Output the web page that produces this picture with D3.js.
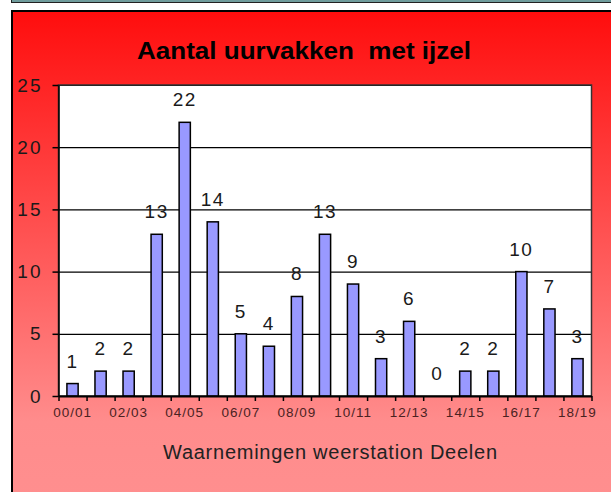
<!DOCTYPE html>
<html>
<head>
<meta charset="utf-8">
<script src="https://cdn.jsdelivr.net/npm/d3@7"></script>
<style>
  body { margin: 0; background: #fff; }
  svg { display: block; font-family: "Liberation Sans", Arial, sans-serif; }
</style>
</head>
<body>
<svg id="drawing_region"></svg>
<script>
// seasons and number of hours with glaze (ijzel)
var seasons = ['00/01','01/02','02/03','03/04','04/05','05/06','06/07','07/08','08/09','09/10',
               '10/11','11/12','12/13','13/14','14/15','15/16','16/17','17/18','18/19'];
var values = [1, 2, 2, 13, 22, 14, 5, 4, 8, 13, 9, 3, 6, 0, 2, 2, 10, 7, 3];
var yTicks = [0, 5, 10, 15, 20, 25];
var titleText = 'Aantal uurvakken  met ijzel';
var xTitle = 'Waarnemingen weerstation Deelen';

var width = 611;
var height = 492;
var margin = {top: 85, right: 19.5, bottom: 96, left: 58.5};
const inner_width = width - margin.left - margin.right;
const inner_height = height - margin.top - margin.bottom;

var svg = d3.select('#drawing_region')
    .attr('width', width)
    .attr('height', height);

// background gradient
var defs = svg.append('defs');
var grad = defs.append('linearGradient')
    .attr('id', 'bg')
    .attr('x1', 0).attr('y1', 0).attr('x2', 0).attr('y2', 1);
grad.append('stop').attr('offset', '0%').attr('stop-color', '#ff0d0d');
grad.append('stop').attr('offset', '82%').attr('stop-color', '#ff8c8c');
grad.append('stop').attr('offset', '100%').attr('stop-color', '#ff8f8f');

// top strip
svg.append('rect').attr('x', 11).attr('y', 0).attr('width', 600).attr('height', 2).attr('fill', '#6f9c9c');
svg.append('line').attr('x1', 11).attr('x2', 611).attr('y1', 2.5).attr('y2', 2.5).attr('stroke', '#222');
svg.append('line').attr('x1', 11.5).attr('x2', 11.5).attr('y1', 0).attr('y2', 3).attr('stroke', '#222');

// red box
svg.append('rect')
    .attr('x', 12).attr('y', 11)
    .attr('width', 620).attr('height', 500)
    .attr('fill', 'url(#bg)')
    .attr('stroke', '#000')
    .attr('stroke-width', 2);

var chart = svg.append('g')
    .attr('transform', `translate(${margin.left}, ${margin.top})`);

const xscale = d3.scaleBand()
      .domain(seasons)
      .range([0, inner_width])
      .paddingInner(0.6)
      .paddingOuter(0.3);

const xedge = d3.scaleLinear()
      .domain([0, seasons.length])
      .range([0, inner_width]);

const yscale = d3.scaleLinear()
      .domain([0, 25])
      .range([inner_height, 0]);

// plot area
chart.append('rect')
    .attr('width', inner_width)
    .attr('height', inner_height)
    .attr('fill', '#fff');

// gridlines
const grid = chart.append('g')
    .call(d3.axisLeft(yscale).tickValues(yTicks).tickSize(-inner_width).tickFormat(''));
grid.select('.domain').remove();
grid.selectAll('line').attr('stroke', '#000').attr('stroke-width', 1.2);

// plot border
chart.append('rect')
    .attr('width', inner_width)
    .attr('height', inner_height)
    .attr('fill', 'none')
    .attr('stroke', '#333')
    .attr('stroke-width', 1.5);

// bars
chart.selectAll('.bar')
    .data(values)
    .enter().append('rect')
    .attr('class', 'bar')
    .attr('x', (d, i) => xscale(seasons[i]))
    .attr('y', d => yscale(d))
    .attr('width', xscale.bandwidth())
    .attr('height', d => inner_height - yscale(d))
    .attr('fill', '#9999ff')
    .attr('stroke', '#000')
    .attr('stroke-width', 1.5);

// value labels
chart.selectAll('.val')
    .data(values)
    .enter().append('text')
    .attr('class', 'val')
    .attr('x', (d, i) => xscale(seasons[i]) + xscale.bandwidth() / 2)
    .attr('y', d => yscale(d) - 16)
    .attr('text-anchor', 'middle')
    .attr('font-size', 19)
    .attr('letter-spacing', 1.5)
    .attr('fill', '#1a1a1a')
    .text(d => d);

// y axis
const yaxis_group = chart.append('g')
    .call(d3.axisLeft(yscale).tickValues(yTicks).tickSize(6).tickPadding(10).tickSizeOuter(0));
yaxis_group.select('.domain').attr('stroke', '#000').attr('stroke-width', 1.5);
yaxis_group.selectAll('line').attr('stroke', '#000').attr('stroke-width', 1.5);
yaxis_group.selectAll('text')
    .attr('font-size', 19)
    .attr('letter-spacing', 2)
    .attr('fill', '#1a1a1a')
    .attr('font-family', '"Liberation Sans", Arial, sans-serif');

// x axis: boundary ticks
const xedge_group = chart.append('g')
    .attr('transform', `translate(0, ${inner_height})`)
    .call(d3.axisBottom(xedge).ticks(seasons.length).tickSize(5).tickSizeOuter(0).tickFormat(''));
xedge_group.select('.domain').attr('stroke', '#000').attr('stroke-width', 2);
xedge_group.selectAll('line').attr('stroke', '#000').attr('stroke-width', 1.5);

// x axis: labels on every other season
const xaxis_group = chart.append('g')
    .attr('transform', `translate(0, ${inner_height})`)
    .call(d3.axisBottom(xscale).tickSize(0).tickPadding(11)
        .tickFormat((d, i) => i % 2 === 0 ? d : ''));
xaxis_group.select('.domain').remove();
xaxis_group.selectAll('text')
    .attr('font-size', 13.5)
    .attr('letter-spacing', 1)
    .attr('fill', '#4a2222')
    .attr('font-family', '"Liberation Sans", Arial, sans-serif');

// title
svg.append('text')
    .attr('x', 304)
    .attr('y', 59)
    .attr('text-anchor', 'middle')
    .attr('font-size', 24)
    .attr('font-weight', 'bold')
    .attr('fill', '#000')
    .attr('textLength', 334)
    .attr('lengthAdjust', 'spacingAndGlyphs')
    .style('white-space', 'pre')
    .text(titleText);

// x axis title
svg.append('text')
    .attr('x', 330)
    .attr('y', 459)
    .attr('text-anchor', 'middle')
    .attr('font-size', 20)
    .attr('fill', '#222')
    .attr('textLength', 334)
    .attr('lengthAdjust', 'spacing')
    .text(xTitle);
</script>
</body>
</html>
